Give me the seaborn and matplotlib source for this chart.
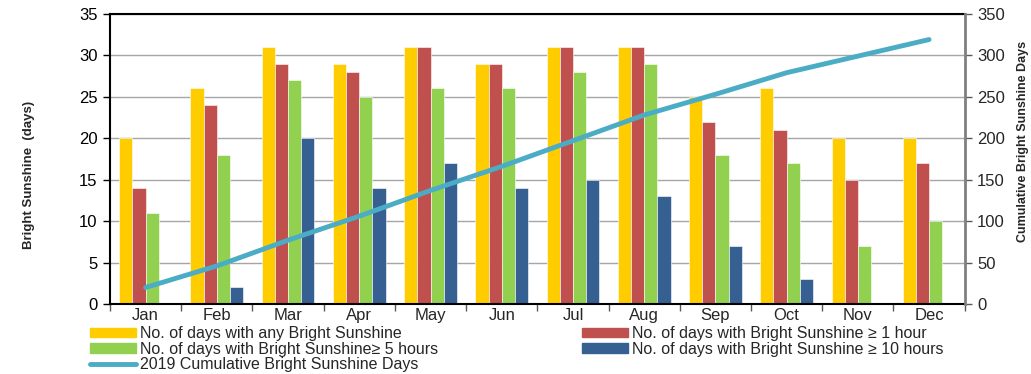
import numpy as np
import pandas as pd
import matplotlib
matplotlib.use("Agg")
import matplotlib.pyplot as plt
import seaborn as sns
from matplotlib.patches import Patch
from matplotlib.lines import Line2D

months = ["Jan", "Feb", "Mar", "Apr", "May", "Jun", "Jul", "Aug", "Sep", "Oct", "Nov", "Dec"]
any_sun = [20, 26, 31, 29, 31, 29, 31, 31, 25, 26, 20, 20]
sun_1h = [14, 24, 29, 28, 31, 29, 31, 31, 22, 21, 15, 17]
sun_5h = [11, 18, 27, 25, 26, 26, 28, 29, 18, 17, 7, 10]
sun_10h = [0, 2, 20, 14, 17, 14, 15, 13, 7, 3, 0, 0]
cumulative = [20, 46, 77, 106, 137, 166, 197, 228, 253, 279, 299, 319]

series_names = [
    "No. of days with any Bright Sunshine",
    "No. of days with Bright Sunshine \u2265 1 hour",
    "No. of days with Bright Sunshine\u2265 5 hours",
    "No. of days with Bright Sunshine \u2265 10 hours",
]
line_name = "2019 Cumulative Bright Sunshine Days"
colors = ["#FFCC00", "#C0504D", "#92D050", "#366092"]
line_color = "#4BACC6"

rows = []
for name, vals in zip(series_names, [any_sun, sun_1h, sun_5h, sun_10h]):
    for m, v in zip(months, vals):
        rows.append({"Month": m, "Series": name, "Days": v})
df = pd.DataFrame(rows)

sns.set_style("white")
plt.rcParams["font.family"] = ["Liberation Sans", "DejaVu Sans"]

fig = plt.figure(figsize=(10.31, 3.74), dpi=100)
ax = fig.add_axes([0.1067, 0.187, 0.829, 0.776])

sns.barplot(data=df, x="Month", y="Days", hue="Series", order=months,
            hue_order=series_names, palette=colors, width=0.74, gap=0,
            saturation=1, linewidth=0.4, edgecolor="white", ax=ax, legend=False)

ax.set_ylim(0, 35)
ax.set_xlim(-0.5, 11.5)
ax.set_yticks(range(0, 36, 5))
ax.yaxis.grid(True, color="#a6a6a6", linewidth=1)
ax.set_axisbelow(True)
ax.set_xlabel("")
ax.set_ylabel("Bright Sunshine  (days)", fontsize=9.5, fontweight="bold")
ax.yaxis.set_label_coords(-0.088, 0.445)
ax.tick_params(axis="y", which="major", direction="out", length=5, width=1,
               labelsize=12, colors="black", left=True, pad=4)
ax.tick_params(axis="x", which="major", length=0, labelsize=12, pad=3)
ax.set_xticks(np.arange(-0.5, 12, 1), minor=True)
ax.tick_params(axis="x", which="minor", direction="out", length=5, width=1,
               color="#595959", bottom=True)
for s in ["left", "top", "bottom"]:
    ax.spines[s].set_color("black")
    ax.spines[s].set_linewidth(1.5)
ax.spines["right"].set_visible(False)

ax2 = ax.twinx()
sns.lineplot(x=np.arange(len(months)), y=cumulative, color=line_color,
             linewidth=3.5, ax=ax2)
ax2.set_ylim(0, 350)
ax2.set_yticks(range(0, 351, 50))
ax2.grid(False)
ax2.tick_params(axis="y", direction="out", length=5, width=1, labelsize=12,
                right=True, color="#595959", pad=4)
for s in ["left", "top", "bottom"]:
    ax2.spines[s].set_visible(False)
ax2.spines["right"].set_color("#808080")
ax2.spines["right"].set_linewidth(2)
ax2.set_ylabel("Cumulative Bright Sunshine Days", fontsize=9, fontweight="bold")
ax2.yaxis.set_label_coords(1.061, 0.56)

left_handles = [
    Patch(color=colors[0], label=series_names[0]),
    Patch(color=colors[2], label=series_names[2]),
    Line2D([0], [0], color=line_color, linewidth=3.5, label=line_name),
]
right_handles = [
    Patch(color=colors[1], label=series_names[1]),
    Patch(color=colors[3], label=series_names[3]),
]
leg_kw = dict(loc="upper left", frameon=False, fontsize=11.5, handlelength=2.9,
              handleheight=0.55, handletextpad=0.25, labelspacing=0.03,
              borderaxespad=0, borderpad=0)
fig.legend(handles=left_handles, bbox_to_anchor=(0.0873, 0.128), **leg_kw)
fig.legend(handles=right_handles, bbox_to_anchor=(0.5645, 0.128), **leg_kw)

fig.savefig("out.png", dpi=100)
